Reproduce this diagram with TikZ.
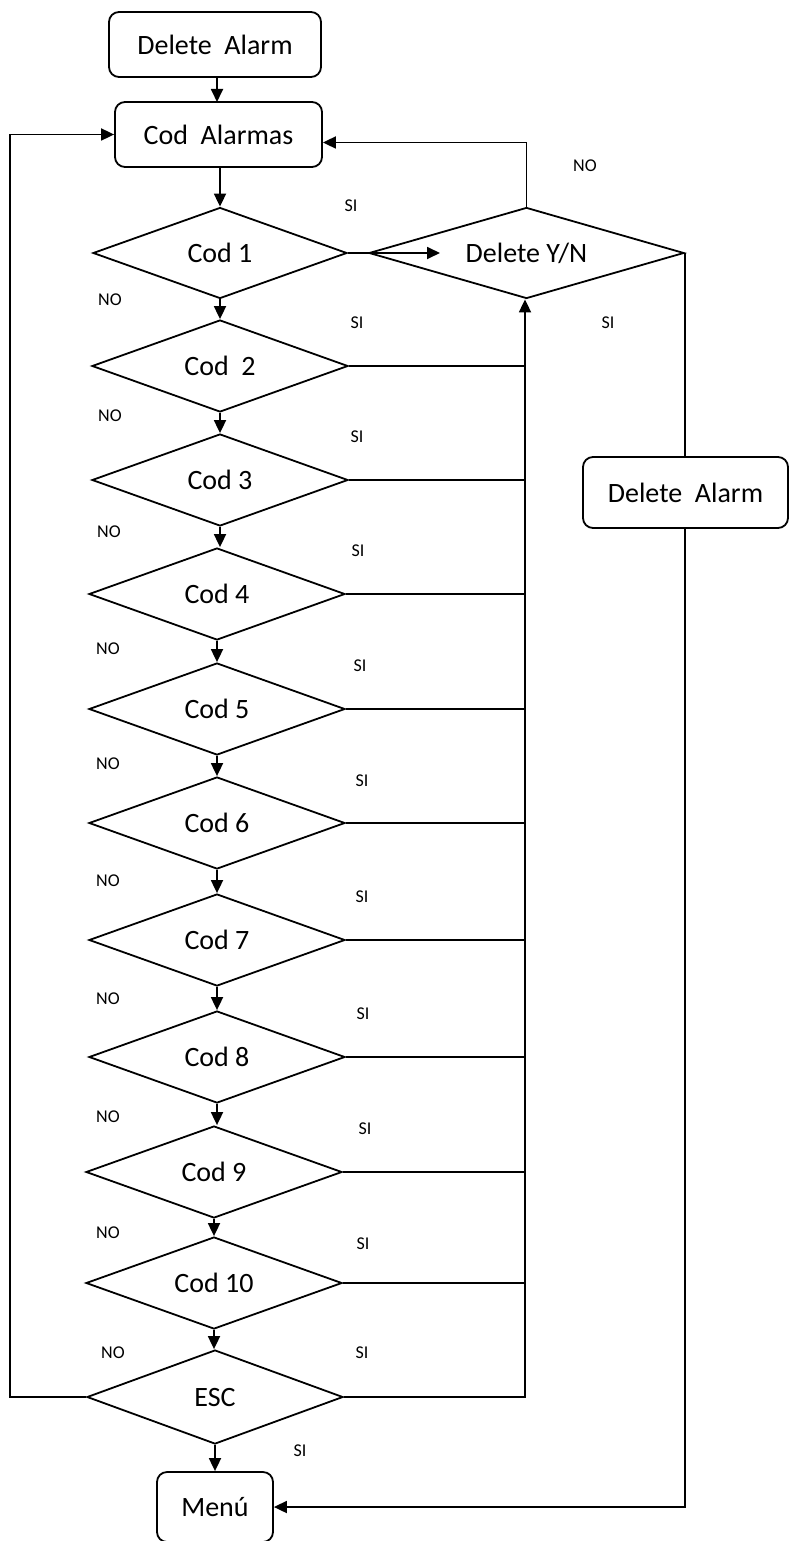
\documentclass[tikz,border=0pt]{standalone}
\usepackage{fontspec}
\setmainfont{Carlito}
\usetikzlibrary{shapes.geometric,arrows.meta}
\begin{document}
\begin{tikzpicture}[x=1pt,y=-1pt,line width=1.8pt,
  box/.style={draw,rounded corners=10pt,inner sep=0pt,font=\fontsize{28}{30}\selectfont},
  dia/.style={draw,diamond,shape aspect=3,inner sep=0pt,minimum width=256pt,minimum height=92pt,font=\fontsize{28}{30}\selectfont},
  lbl/.style={inner sep=0pt,font=\fontsize{18}{20}\selectfont},
  arr/.style={-{Triangle[length=13pt,width=12pt]}}]
\useasboundingbox (0,0) rectangle (790,1541);
% boxes
\node[box,minimum width=212pt,minimum height=65pt] (top) at (215,44.5) {Delete\ \ Alarm};
\node[box,minimum width=207pt,minimum height=65pt] (codal) at (218.5,134.5) {Cod\ \ Alarmas};
\node[box,minimum width=205pt,minimum height=71pt] (del2) at (685.5,492.5) {Delete\ \ Alarm};
\node[box,minimum width=116pt,minimum height=70pt] (menu) at (215,1507) {Menú};
% diamonds
\node[dia,minimum width=254pt,minimum height=91pt] (c1) at (220,253) {Cod 1};
\node[dia] (c2) at (220,366) {Cod\ \ 2};
\node[dia] (c3) at (220,480) {Cod 3};
\node[dia] (c4) at (217,594) {Cod 4};
\node[dia] (c5) at (217,709) {Cod 5};
\node[dia] (c6) at (217,823) {Cod 6};
\node[dia] (c7) at (217,940) {Cod 7};
\node[dia] (c8) at (217,1057) {Cod 8};
\node[dia] (c9) at (214,1172) {Cod 9};
\node[dia] (c10) at (214,1283) {Cod 10};
\node[dia,minimum height=94pt] (esc) at (215,1397) {ESC};
\node[dia,shape aspect=3.4,minimum width=315pt,minimum height=91pt] (yn) at (526.5,253) {Delete Y/N};
% coordinates
\coordinate (yntip) at (440,253);
\coordinate (col) at (525,1397);
\coordinate (lft) at (10,1397);
% vertical flow
\draw[arr] (top.south -| 217,0) -- (217,102);
\draw[arr] (codal.south -| c1.north) -- (c1.north);
\draw[arr] (c1.south) -- (c1.south |- c2.north);
\draw[arr] (c2.south) -- (c2.south |- c3.north);
\draw[arr] (c3.south) -- (c3.south |- c4.north);
\draw[arr] (c4.south) -- (c4.south |- c5.north);
\draw[arr] (c5.south) -- (c5.south |- c6.north);
\draw[arr] (c6.south) -- (c6.south |- c7.north);
\draw[arr] (c7.south) -- (c7.south |- c8.north);
\draw[arr] (c8.south) -- (c8.south |- c9.north);
\draw[arr] (c9.south) -- (c9.south |- c10.north);
\draw[arr] (c10.south) -- (c10.south |- esc.north);
\draw[arr] (esc.south) -- (esc.south |- menu.north);
% SI branch
\draw[arr] (c1.east) -- (yntip);
\foreach \n in {c2,c3,c4,c5,c6,c7,c8,c9,c10}{\draw (\n.east) -- (\n.east -| col);}
\draw[arr] (esc.east) -- (col) -- (col |- yn.south);
% NO from Delete Y/N
\draw[arr] (yn.north) |- ([yshift=-8pt]codal.east);
% Delete Y/N SI
\draw (yn.east) -- (yn.east |- del2.north);
\draw[arr] (del2.south -| yn.east) |- (menu.east);
% ESC NO loop
\draw[arr] (esc.west) -- (lft) |- (codal.west);
% labels
\node[lbl] (si1) at (351,206) {SI};
\node[lbl] (si2) at (357,323) {SI};
\node[lbl] (si3) at (357,437) {SI};
\node[lbl] (si4) at (358,551) {SI};
\node[lbl] (si5) at (360,666) {SI};
\node[lbl] (si6) at (362,781) {SI};
\node[lbl] (si7) at (362,897) {SI};
\node[lbl] (si8) at (363,1014) {SI};
\node[lbl] (si9) at (365,1129) {SI};
\node[lbl] (si10) at (363,1244) {SI};
\node[lbl] (si11) at (362,1353) {SI};
\node[lbl] (si12) at (300,1451) {SI};
\node[lbl] (siyn) at (608,323) {SI};
\node[lbl] (noyn) at (585,166) {NO};
\node[lbl] (no2) at (110,300) {NO};
\node[lbl] (no3) at (110,416) {NO};
\node[lbl] (no4) at (109,532) {NO};
\node[lbl] (no5) at (108,649) {NO};
\node[lbl] (no6) at (108,764) {NO};
\node[lbl] (no7) at (108,881) {NO};
\node[lbl] (no8) at (108,999) {NO};
\node[lbl] (no9) at (108,1117) {NO};
\node[lbl] (no10) at (108,1233) {NO};
\node[lbl] (no11) at (113,1353) {NO};
\end{tikzpicture}
\end{document}
